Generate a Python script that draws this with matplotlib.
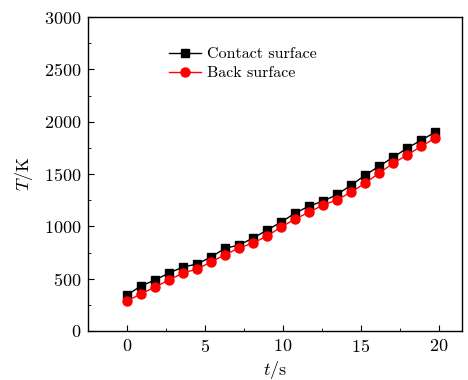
import numpy as np
import matplotlib
matplotlib.use("Agg")
import matplotlib.pyplot as plt
from matplotlib.ticker import MultipleLocator

plt.rcParams["font.family"] = "cmr10"
plt.rcParams["mathtext.fontset"] = "cm"
plt.rcParams["axes.formatter.use_mathtext"] = True

t = [0.0, 0.9, 1.8, 2.7, 3.6, 4.5, 5.4, 6.3, 7.2, 8.1, 9.0, 9.9,
     10.8, 11.7, 12.6, 13.5, 14.4, 15.3, 16.2, 17.1, 18.0, 18.9, 19.8]
contact = [344, 430, 487, 554, 611, 640, 707, 790, 822, 888, 965, 1041,
           1127, 1194, 1242, 1305, 1395, 1490, 1576, 1662, 1748, 1825, 1901]
back = [287, 354, 420, 487, 554, 592, 659, 730, 793, 841, 908, 994,
        1070, 1137, 1204, 1255, 1328, 1414, 1510, 1605, 1682, 1767, 1844]

fig = plt.figure(figsize=(4.68, 3.8), dpi=100)
ax = fig.add_axes([0.188, 0.129, 0.799, 0.826])

ax.plot(t, contact, "k-", marker="s", ms=5.5, lw=1, label="Contact surface")
ax.plot(t, back, "r-", marker="o", ms=6.5, lw=1, label="Back surface")

ax.set_xlim(-2.5, 21.5)
ax.set_ylim(0, 3000)
ax.xaxis.set_major_locator(MultipleLocator(5))
ax.xaxis.set_minor_locator(MultipleLocator(2.5))
ax.yaxis.set_major_locator(MultipleLocator(500))
ax.yaxis.set_minor_locator(MultipleLocator(250))
ax.tick_params(which="both", direction="in", labelsize=13)
ax.tick_params(which="major", length=4, pad=5)
ax.tick_params(which="minor", length=2.5)
for s in ax.spines.values():
    s.set_linewidth(1)

ax.set_xlabel("$t$/s", fontsize=13, labelpad=3)
ax.set_ylabel("$T$/K", fontsize=13, labelpad=6)
ax.legend(loc="upper left", bbox_to_anchor=(0.2, 0.925), frameon=False,
          fontsize=11.5, handlelength=2, handletextpad=0.4, labelspacing=0.3,
          borderaxespad=0)

fig.savefig("out.png", dpi=100)
